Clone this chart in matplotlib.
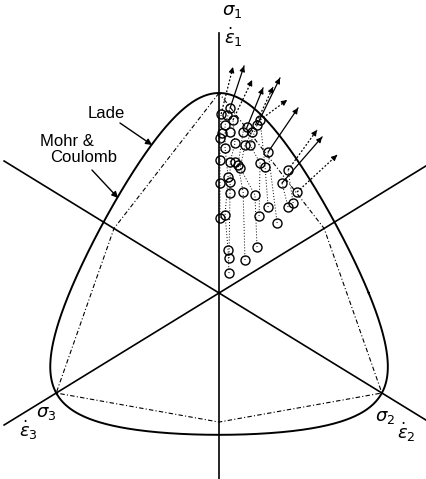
import numpy as np
import matplotlib.pyplot as plt

plt.rcParams['font.family'] = ['Liberation Sans', 'DejaVu Sans']
plt.rcParams['mathtext.fontset'] = 'dejavusans'

# friction angle shared by the Lade and Mohr-Coulomb envelopes
phi_deg = 40.3

# measured stress states in the deviatoric plane (unit = compression radius)
pt_x = [0.011, 0.043, 0.059, 0.074, 0.032, 0.059, 0.016, 0.005, 0.128, 0.149,
        0.176, 0.202, 0.218, 0.085, 0.138, 0.165, 0.032, 0.005, 0.059, 0.085,
        0.101, 0.112, 0.261, 0.218, 0.245, 0.367, 0.048, 0.005, 0.059, 0.059,
        0.128, 0.191, 0.335, 0.415, 0.261, 0.367, 0.394, 0.032, 0.005, 0.213,
        0.309, 0.048, 0.202, 0.053, 0.138, 0.053]
pt_y = [0.895, 0.890, 0.925, 0.865, 0.840, 0.805, 0.800, 0.775, 0.805, 0.830,
        0.805, 0.840, 0.865, 0.750, 0.740, 0.740, 0.725, 0.665, 0.655, 0.655,
        0.640, 0.625, 0.705, 0.650, 0.630, 0.615, 0.580, 0.550, 0.555, 0.500,
        0.505, 0.490, 0.550, 0.505, 0.430, 0.430, 0.450, 0.390, 0.375, 0.385,
        0.350, 0.215, 0.230, 0.175, 0.165, 0.100]

# loading paths (indices into the point lists, in test order)
paths = [
    [38, 27, 17, 7, 0],
    [45, 41, 37, 26, 16, 4, 2],
    [43, 28, 18, 13, 3],
    [44, 30, 20, 8, 9],
    [42, 31, 21, 14, 10],
    [39, 23, 15, 11],
    [34, 24, 12],
    [40, 22],
    [36, 25],
    [35, 32],
    [33],
]
# tip of the plastic strain increment vector drawn from the last point of each path
tip_x = [0.074, 0.133, 0.176, 0.234, 0.287, 0.324, 0.362, 0.420, 0.521, 0.548, 0.628]
tip_y = [1.130, 1.135, 1.065, 1.025, 1.030, 1.075, 0.965, 0.925, 0.815, 0.780, 0.690]

# directions of the sigma_1, sigma_2, sigma_3 axes in the pi-plane
axis_ang = np.radians([90.0, 330.0, 210.0])


def deviatoric_to_principal(rho, ang, p=1.0):
    return [p + np.sqrt(2 / 3) * rho * np.cos(ang - a) for a in axis_ang]


sphi = np.sin(np.radians(phi_deg))
# triaxial compression radius from Mohr-Coulomb at p = 1
rho_c = 2 * sphi / (np.sqrt(1.5) - sphi / np.sqrt(6))
s1, s2, s3 = deviatoric_to_principal(rho_c, axis_ang[0])
eta1 = 27.0 / (s1 * s2 * s3)

# Lade surface: I1^3 / I3 = eta1, solved along each ray by bisection
theta = np.linspace(0, 2 * np.pi, 721)
lo = np.zeros_like(theta)
hi = np.full_like(theta, 3.0)
for _ in range(60):
    mid = 0.5 * (lo + hi)
    a, b, c = deviatoric_to_principal(mid, theta)
    prod = a * b * c
    bad = (prod <= 0) | (27.0 / np.where(prod > 0, prod, 1) >= eta1)
    hi = np.where(bad, mid, hi)
    lo = np.where(bad, lo, mid)
lade_r = lo / rho_c
lade_x = lade_r * np.cos(theta)
lade_y = lade_r * np.sin(theta)

# Mohr-Coulomb hexagon: compression corners on the axes, extension corners between
r_ext = (3 - sphi) / (3 + sphi)
mc_ang = np.radians([90, 150, 210, 270, 330, 30, 90])
mc_r = np.array([1, r_ext, 1, r_ext, 1, r_ext, 1])
mc_x = mc_r * np.cos(mc_ang)
mc_y = mc_r * np.sin(mc_ang)

fig = plt.figure(figsize=(4.27, 4.79), dpi=100)
ax = fig.add_axes([0, 0, 1, 1])
ax.set_xlim(-1.165, 1.106)
ax.set_ylim(-0.93, 1.465)
ax.axis('off')

# principal stress axes
ax.plot([0, 0], [-1.0, 1.30], color='k', lw=1.2)
for ang in np.radians([30, 150]):
    ax.plot([-1.32 * np.cos(ang), 1.32 * np.cos(ang)],
            [-1.32 * np.sin(ang), 1.32 * np.sin(ang)], color='k', lw=1.2)

ax.plot(lade_x, lade_y, color='k', lw=1.4)
ax.plot(mc_x, mc_y, color='k', lw=0.8, linestyle=(0, (4, 2, 1, 2)))

# stress paths, strain increment vectors and measured points
for i, path in enumerate(paths):
    xs = [pt_x[j] for j in path]
    ys = [pt_y[j] for j in path]
    ax.plot(xs, ys, color='k', lw=0.7, linestyle=(0, (1, 2)))
    x0, y0 = xs[-1], ys[-1]
    x1, y1 = tip_x[i], tip_y[i]
    style = '-' if i % 2 else (0, (1.5, 1.5))
    ax.plot([x0, x1], [y0, y1], color='k', lw=0.9, linestyle=style)
    ax.annotate('', xy=(x1, y1),
                xytext=(x1 - 0.05 * (x1 - x0), y1 - 0.05 * (y1 - y0)),
                arrowprops=dict(arrowstyle='-|>', color='k', lw=0.8,
                                mutation_scale=8, shrinkA=0, shrinkB=0))

ax.plot(pt_x, pt_y, 'o', ms=6.5, mfc='none', mec='k', mew=1.0)

# axis labels
lab = dict(fontsize=13, ha='center', va='center')
ax.text(0.069, 1.405, r'$\sigma_1$', **lab)
ax.text(0.074, 1.28, r'$\dot{\epsilon}_1$', **lab)
ax.text(-0.92, -0.60, r'$\sigma_3$', **lab)
ax.text(-1.016, -0.685, r'$\dot{\epsilon}_3$', **lab)
ax.text(0.883, -0.625, r'$\sigma_2$', **lab)
ax.text(0.995, -0.695, r'$\dot{\epsilon}_2$', **lab)

# envelope labels
ax.text(-0.601, 0.90, 'Lade', fontsize=12, ha='center', va='center')
ax.annotate('', xy=(-0.356, 0.74), xytext=(-0.527, 0.85),
            arrowprops=dict(arrowstyle='-|>', color='k', lw=1.0,
                            mutation_scale=9, shrinkA=0, shrinkB=0))
ax.text(-0.952, 0.76, 'Mohr &', fontsize=12, ha='left', va='center')
ax.text(-0.718, 0.68, 'Coulomb', fontsize=12, ha='center', va='center')
ax.annotate('', xy=(-0.537, 0.475), xytext=(-0.676, 0.615),
            arrowprops=dict(arrowstyle='-|>', color='k', lw=1.0,
                            mutation_scale=9, shrinkA=0, shrinkB=0))

fig.savefig('out.png', dpi=100)
